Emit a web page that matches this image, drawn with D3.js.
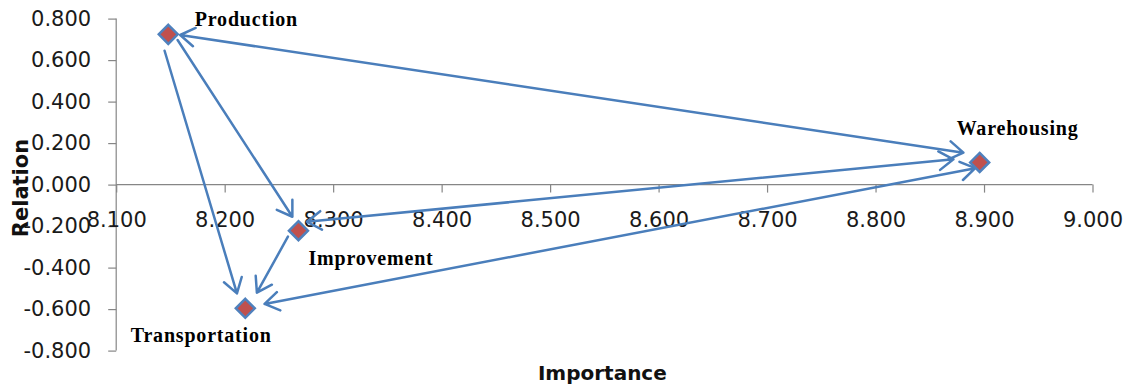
<!DOCTYPE html>
<html>
<head>
<meta charset="utf-8">
<script src="https://cdn.jsdelivr.net/npm/d3@7"></script>
<style>
  html, body { margin: 0; padding: 0; background: #fff; }
  svg { display: block; }
</style>
</head>
<body>
<svg id="chart" width="1125" height="388"></svg>
<script>
// Factor positions: importance (x) vs relation (y)
const categories = ["Production", "Warehousing", "Improvement", "Transportation"];
const importance = [8.148, 8.896, 8.268, 8.219];
const relation   = [0.724, 0.107, -0.222, -0.596];

// Axis ticks
const xTicks = [8.1, 8.2, 8.3, 8.4, 8.5, 8.6, 8.7, 8.8, 8.9, 9.0];
const yTicks = [-0.8, -0.6, -0.4, -0.2, 0.0, 0.2, 0.4, 0.6, 0.8];

// Influence arrows, endpoints in data units; heads: 1 = at end, 2 = both ends
const arrowTailX = [8.159, 8.1566, 8.1446, 8.2583, 8.2758, 8.2368];
const arrowTailY = [0.721, 0.697, 0.645, -0.251, -0.179, -0.575];
const arrowHeadX = [8.881, 8.2624, 8.2113, 8.2297, 8.8718, 8.8919];
const arrowHeadY = [0.154, -0.155, -0.524, -0.521, 0.122, 0.079];
const arrowHeads = [2, 1, 1, 1, 2, 2];

// Label placement relative to each marker (pixels)
const labelDx = [26.5, -23, 10, -114.5];
const labelDy = [-8.6, -27.3, 34.3, 33.4];

const svg = d3.select("#chart");

const x = d3.scaleLinear().domain([8.1, 9.0]).range([116.2, 1092.5]);
const y = d3.scaleLinear().domain([-0.8, 0.8]).range([350.6, 18.6]);

const fmt = v => d3.format(".3f")(v).replace("\u2212", "-");

const axisColor = "#868686";
const tickFont = "DejaVu Sans, sans-serif";

// Y axis (vertical line at x = 8.1)
const yAxis = svg.append("g")
  .attr("transform", `translate(${x(8.1)},0)`)
  .call(d3.axisLeft(y).tickValues(yTicks).tickSize(8).tickPadding(17).tickFormat(fmt));

// X axis crosses at relation = 0
const xAxis = svg.append("g")
  .attr("transform", `translate(0,${y(0)})`)
  .call(d3.axisBottom(x).tickValues(xTicks).tickSize(8).tickPadding(19).tickFormat(fmt));

[yAxis, xAxis].forEach(g => {
  g.select(".domain").attr("stroke", axisColor).attr("stroke-width", 1.2);
  g.selectAll(".tick line").attr("stroke", axisColor).attr("stroke-width", 1.2);
  g.selectAll(".tick text")
    .attr("fill", "#1a1a1a")
    .style("font-family", tickFont)
    .style("font-size", "21px");
});
// Flatten the outer tick caps of the domain paths
yAxis.select(".domain").attr("d", `M0,${y(0.8)}V${y(-0.8)}`);
xAxis.select(".domain").attr("d", `M${x(8.1)},0H${x(9.0)}`);

// Axis titles
svg.append("text")
  .attr("x", (x(8.1) + x(9.0)) / 2 - 2)
  .attr("y", 379.5)
  .attr("text-anchor", "middle")
  .style("font-family", "DejaVu Sans, sans-serif")
  .style("font-weight", "bold")
  .style("font-size", "20px")
  .attr("fill", "#111")
  .text("Importance");

svg.append("text")
  .attr("transform", `translate(28,188) rotate(-90)`)
  .attr("text-anchor", "middle")
  .style("font-family", "DejaVu Sans, sans-serif")
  .style("font-weight", "bold")
  .style("font-size", "21px")
  .attr("fill", "#111")
  .text("Relation");

// Arrows
const lineColor = "#4A7EBB";
const headLen = 17, headAngle = 33 * Math.PI / 180;
const arrowG = svg.append("g")
  .attr("fill", "none")
  .attr("stroke", lineColor)
  .attr("stroke-width", 2.5)
  .attr("stroke-linecap", "round")
  .attr("stroke-linejoin", "round");

function headPath(tx, ty, fx, fy) {
  const a = Math.atan2(ty - fy, tx - fx);
  const p1 = [tx - headLen * Math.cos(a - headAngle), ty - headLen * Math.sin(a - headAngle)];
  const p2 = [tx - headLen * Math.cos(a + headAngle), ty - headLen * Math.sin(a + headAngle)];
  return `M${p1[0]},${p1[1]}L${tx},${ty}L${p2[0]},${p2[1]}`;
}

arrowTailX.forEach((_, i) => {
  const x1 = x(arrowTailX[i]), y1 = y(arrowTailY[i]);
  const x2 = x(arrowHeadX[i]), y2 = y(arrowHeadY[i]);
  let d = `M${x1},${y1}L${x2},${y2}` + headPath(x2, y2, x1, y1);
  if (arrowHeads[i] === 2) d += headPath(x1, y1, x2, y2);
  arrowG.append("path").attr("d", d);
});

// Markers: red diamonds with blue outline
const r = 9.5;
svg.append("g").selectAll("path")
  .data(categories)
  .join("path")
  .attr("d", (d, i) => {
    const cx = x(importance[i]), cy = y(relation[i]);
    return `M${cx},${cy - r}L${cx + r},${cy}L${cx},${cy + r}L${cx - r},${cy}Z`;
  })
  .attr("fill", "#C0504D")
  .attr("stroke", "#4F81BD")
  .attr("stroke-width", 2.5);

// Point labels
svg.append("g").selectAll("text")
  .data(categories)
  .join("text")
  .attr("x", (d, i) => x(importance[i]) + labelDx[i])
  .attr("y", (d, i) => y(relation[i]) + labelDy[i])
  .style("font-family", "Liberation Serif, Times New Roman, serif")
  .style("font-weight", "bold")
  .style("font-size", "20px")
  .style("letter-spacing", "0.8px")
  .attr("fill", "#000")
  .text(d => d);
</script>
</body>
</html>
